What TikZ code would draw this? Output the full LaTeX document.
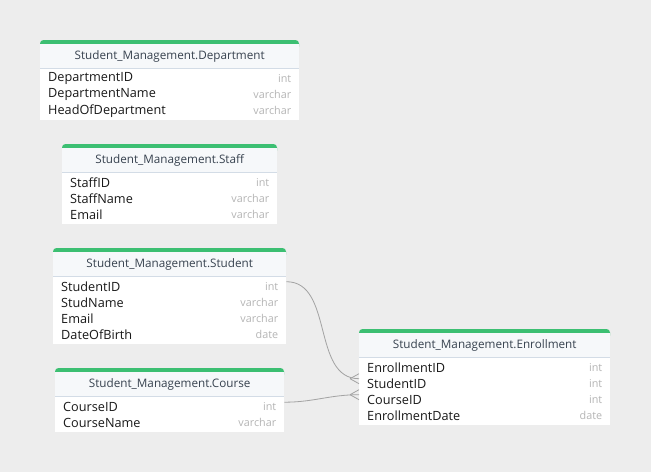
\documentclass[tikz,border=0pt]{standalone}
\usepackage{fontspec}
\setmainfont{Open Sans}
\usetikzlibrary{positioning}

\definecolor{canvas}{HTML}{EDEDED}
\definecolor{tablegreen}{HTML}{3CBF72}
\definecolor{headfill}{HTML}{F6F8FA}
\definecolor{headline}{HTML}{D3DCE6}
\definecolor{headtext}{HTML}{37424F}
\definecolor{typetext}{HTML}{B5B5B5}
\definecolor{linkgray}{HTML}{A3A3A3}

\tikzset{
  tablehead/.style={fill=headfill, inner sep=0pt, minimum height=25pt, text=headtext, font=\fontsize{11.7}{13}\selectfont},
  tablebody/.style={fill=white, inner sep=0pt},
  rowbox/.style={inner sep=0pt, minimum height=16pt},
  fieldname/.style={inner sep=0pt, yshift=-1.5pt, text=black!90, font=\fontsize{12.7}{14}\selectfont},
  fieldtype/.style={inner sep=0pt, yshift=-1.5pt, text=typetext, font=\fontsize{10.8}{12}\selectfont},
  link/.style={draw=linkgray, line width=0.8pt}
}

% name, left, top, width, rows, title, fields
\newcommand{\erdtable}[7]{%
  \fill[tablegreen, rounded corners=3.5pt] (#2,#3) rectangle ++(#4,10);
  \node[tablehead, minimum width=#4pt, anchor=north west] (#1) at (#2,#3+3.5) {\raisebox{-1.5pt}{#6}};
  \node[tablebody, minimum width=#4pt, minimum height=16*#5+4pt, anchor=north west] (#1-body) at (#2,#3+28) {};
  \draw[headline] (#2,#3+28.5) -- ++(#4,0);
  \foreach \fname/\ftype [count=\i] in {#7} {
    \node[rowbox, minimum width=#4pt, anchor=north west] (#1-\i) at (#2,#3+13+16*\i) {};
    \node[fieldname, right=8pt of #1-\i.west] (#1-\i-name) {\fname};
    \node[fieldtype, left=8pt of #1-\i.east] (#1-\i-type) {\ftype};
  }
}

\newcommand{\crowfoot}[1]{%
  \draw[link] ([xshift=-9pt]#1) -- ([yshift=5pt]#1)
              ([xshift=-9pt]#1) -- ([yshift=-5pt]#1);
}

\begin{document}
\begin{tikzpicture}[x=1pt, y=-1pt]
\fill[canvas] (0,0) rectangle (651,472);
\useasboundingbox (0,0) rectangle (651,472);

\erdtable{dept}{40}{40}{259}{3}{Student\_Management.Department}
  {DepartmentID/int, DepartmentName/varchar, HeadOfDepartment/varchar}
\erdtable{staff}{62}{144}{215}{3}{Student\_Management.Staff}
  {StaffID/int, StaffName/varchar, Email/varchar}
\erdtable{stu}{53}{248}{233}{4}{Student\_Management.Student}
  {StudentID/int, StudName/varchar, Email/varchar, DateOfBirth/date}
\erdtable{crs}{55}{368}{229}{2}{Student\_Management.Course}
  {CourseID/int, CourseName/varchar}
\erdtable{enr}{359}{329}{251}{4}{Student\_Management.Enrollment}
  {EnrollmentID/int, StudentID/int, CourseID/int, EnrollmentDate/date}

% links
\coordinate (stustart) at ([yshift=3.5pt] stu-1.east);
\coordinate (stuend) at ([yshift=3.5pt] enr-2.west);
\coordinate (crsstart) at ([yshift=3pt] crs-1.east);
\coordinate (crsend) at ([yshift=3.5pt] enr-3.west);

\draw[link] (stustart) to[out=0, in=180] (stuend);
\draw[link] (crsstart) to[out=0, in=180] (crsend);
\crowfoot{stuend}
\crowfoot{crsend}
\end{tikzpicture}
\end{document}
